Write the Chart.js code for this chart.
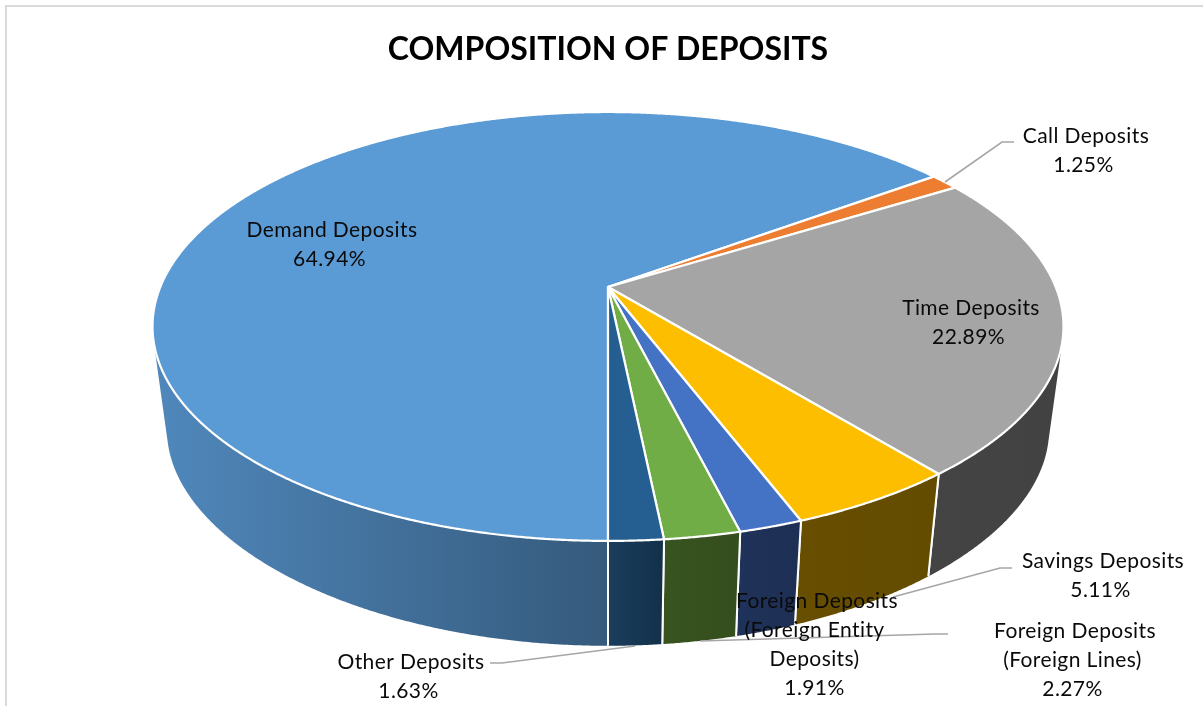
<!DOCTYPE html>
<html>
<head>
<meta charset="utf-8">
<title>Composition of Deposits</title>
<script src="https://cdn.jsdelivr.net/npm/chart.js@4/dist/chart.umd.js"></script>
<style>
  html, body { margin: 0; padding: 0; background: #fff; }
  #wrap { width: 1203px; height: 706px; position: relative; }
  canvas { display: block; }
</style>
</head>
<body>
<div id="wrap"><canvas id="chart"></canvas></div>
<script>
const titleText = 'COMPOSITION OF DEPOSITS';
const categories = ['Demand Deposits', 'Call Deposits', 'Time Deposits', 'Savings Deposits',
  'Foreign Deposits (Foreign Entity Deposits)', 'Foreign Deposits (Foreign Lines)', 'Other Deposits'];
const shares = [64.94, 1.25, 22.89, 5.11, 1.91, 2.27, 1.63];
const faceColors = ['#5B9BD5', '#ED7D31', '#A5A5A5', '#FDBE00', '#4472C4', '#70AD47', '#255E91'];
const wallColors = [
  ['#5088BC', '#355A7C'], ['#8E4B1D', '#8E4B1D'], ['#444444', '#424242'], ['#674E00', '#634B00'],
  ['#1F3259', '#1E2F54'], ['#38541F', '#344E1D'], ['#1A3E5D', '#133049']
];
const wrappedNames = [
  ['Demand Deposits'], ['Call Deposits'], ['Time Deposits'], ['Savings Deposits'],
  ['Foreign Deposits', '(Foreign Entity', 'Deposits)'], ['Foreign Deposits', '(Foreign Lines)'], ['Other Deposits']
];

// Where each data label is centred (x, first line y).
const labelAnchors = [[332, 230], [1086, 136], [971, 308], [1103, 561], [817, 601], [1075, 631], [411, 662]];
// Lines after the first in a label sit slightly left of the first line.
const continuationShift = -2.5;
const lineStep = 29.2;
// Leader polylines running from the labels that sit outside their slice.
const leaders = [
  [[945, 182], [1002, 142], [1014, 142]],
  [[1012, 568], [1000, 568], [893, 597]],
  [[948, 634], [935, 634], [700, 641]],
  [[490, 663], [502, 663], [635, 646]]
];

// Perspective model of the disc: a unit circle seen through a homography,
// with the lower rim pulled toward a far vanishing point and sagging less at the sides.
const tilt = { k: 0.184, ax: 447.7, ay: 207.2, vanishY: 3860, depthScale: 0.9684, rimSag: 4.4e-5 };

function project(cx, cy, angle, lower) {
  const u = Math.cos(angle), v = -Math.sin(angle), w = 1 + tilt.k * v;
  let x = cx + tilt.ax * u / w, y = cy - tilt.ay * v / w;
  if (lower) {
    x = cx + (x - cx) * tilt.depthScale;
    y = tilt.vanishY + (y - tilt.vanishY) * tilt.depthScale - tilt.rimSag * (x - cx) * (x - cx);
  }
  return [x, y];
}

function sampleAngles(start, end) {
  const steps = Math.max(2, Math.ceil((end - start) / 0.004));
  return Array.from({ length: steps + 1 }, (_, i) => start + (end - start) * i / steps);
}

function drawWall(ctx, arc, stops) {
  const { x: cx, y: cy, startAngle, endAngle } = arc.getProps(['x', 'y', 'startAngle', 'endAngle'], true);
  const angles = sampleAngles(startAngle, endAngle);
  // Keep only the outward-facing run of the rim.
  const visible = angles.filter(a => {
    const p = project(cx, cy, a, false), q = project(cx, cy, a + 0.004, false), b = project(cx, cy, a, true);
    return (q[0] - p[0]) * (b[1] - p[1]) - (q[1] - p[1]) * (b[0] - p[0]) < 0;
  });
  if (visible.length < 2) return;
  const top = visible.map(a => project(cx, cy, a, false));
  const bottom = visible.map(a => project(cx, cy, a, true));
  const outline = top.concat(bottom.slice().reverse());
  const xs = outline.map(p => p[0]);
  const grad = ctx.createLinearGradient(Math.min(...xs), 0, Math.max(...xs), 0);
  grad.addColorStop(0, stops[0]);
  grad.addColorStop(1, stops[1]);
  ctx.beginPath();
  outline.forEach((p, i) => i ? ctx.lineTo(p[0], p[1]) : ctx.moveTo(p[0], p[1]));
  ctx.closePath();
  ctx.fillStyle = grad;
  ctx.fill();
  // Vertical seams between neighbouring wall panels; silhouette edges stay unstroked.
  ctx.strokeStyle = '#fff';
  ctx.lineWidth = 2;
  const seams = [];
  if (visible[0] === angles[0]) seams.push(0);
  if (visible[visible.length - 1] === angles[angles.length - 1]) seams.push(visible.length - 1);
  seams.forEach(n => {
    ctx.beginPath();
    ctx.moveTo(top[n][0], top[n][1]);
    ctx.lineTo(bottom[n][0], bottom[n][1]);
    ctx.stroke();
  });
}

function drawFace(ctx, arc) {
  const { x: cx, y: cy, startAngle, endAngle } = arc.getProps(['x', 'y', 'startAngle', 'endAngle'], true);
  ctx.beginPath();
  ctx.moveTo(cx, cy);
  sampleAngles(startAngle, endAngle).forEach(a => {
    const p = project(cx, cy, a, false);
    ctx.lineTo(p[0], p[1]);
  });
  ctx.closePath();
  ctx.fillStyle = arc.options.backgroundColor;
  ctx.fill();
  ctx.lineJoin = 'round';
  ctx.strokeStyle = arc.options.borderColor;
  ctx.lineWidth = arc.options.borderWidth;
  ctx.stroke();
}

const perspectivePie = {
  id: 'perspectivePie',
  beforeDraw(chart) {
    const ctx = chart.ctx;
    ctx.save();
    ctx.strokeStyle = '#D9D9D9';
    ctx.lineWidth = 2;
    ctx.strokeRect(6, 6, 1300, 900);
    ctx.restore();
  },
  beforeDatasetDraw(chart, args) {
    const ctx = chart.ctx;
    ctx.save();
    args.meta.data.forEach((arc, i) => drawWall(ctx, arc, wallColors[i]));
    args.meta.data.forEach(arc => drawFace(ctx, arc));
    ctx.restore();
    return false;
  },
  afterDatasetsDraw(chart) {
    const ctx = chart.ctx;
    ctx.save();
    ctx.strokeStyle = '#A6A6A6';
    ctx.lineWidth = 1.6;
    leaders.forEach(line => {
      ctx.beginPath();
      line.forEach((p, i) => i ? ctx.lineTo(p[0], p[1]) : ctx.moveTo(p[0], p[1]));
      ctx.stroke();
    });
    ctx.font = '21px Lato, Carlito, sans-serif';
    ctx.letterSpacing = '0.4px';
    ctx.fillStyle = '#0A0A0A';
    ctx.textAlign = 'center';
    ctx.textBaseline = 'middle';
    shares.forEach((value, i) => {
      const lines = wrappedNames[i].concat(value.toFixed(2) + '%');
      lines.forEach((text, n) => {
        const x = labelAnchors[i][0] + (n ? continuationShift : 0);
        ctx.fillText(text, x, labelAnchors[i][1] + n * lineStep);
      });
    });
    ctx.restore();
  }
};

new Chart(document.getElementById('chart'), {
  type: 'pie',
  data: {
    labels: categories,
    datasets: [{
      data: shares,
      backgroundColor: faceColors,
      borderColor: '#FFFFFF',
      borderWidth: 2.2
    }]
  },
  options: {
    responsive: true,
    maintainAspectRatio: false,
    animation: false,
    events: [],
    rotation: 180,
    layout: { padding: { left: 13, right: 0, top: 0, bottom: 200.7 } },
    plugins: {
      legend: { display: false },
      tooltip: { enabled: false },
      title: {
        display: true,
        text: titleText,
        color: '#000000',
        font: { family: 'Lato, Carlito, sans-serif', size: 32, weight: 'bold', lineHeight: 1.2 },
        padding: { top: 30.3, bottom: 0 }
      }
    }
  },
  plugins: [perspectivePie]
});
</script>
</body>
</html>
